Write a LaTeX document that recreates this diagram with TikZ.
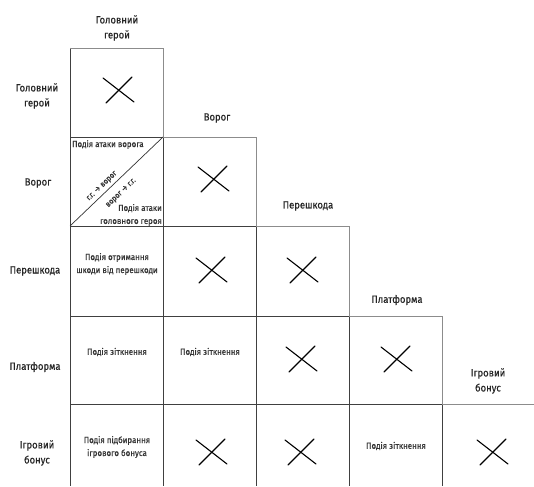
\documentclass[tikz,border=0pt]{standalone}
\usepackage{fontspec}
\setmainfont{Fira Sans}[FakeStretch=0.9,FakeBold=0.5]
\begin{document}
\begin{tikzpicture}[x=1pt,y=-1pt,
  outer/.style={draw=black!45,line width=0.7pt},
  inner/.style={draw=black!75,line width=0.8pt},
  hdr/.style={text=black!85,font=\fontsize{10.5}{15}\selectfont,align=center,inner sep=0pt},
  cell/.style={text=black!80,font=\fontsize{8.8}{13}\selectfont,align=center,inner sep=0pt},
  diag/.style={text=black!80,font=\fontsize{8}{9}\selectfont,inner sep=0pt,rotate=43.7},
  cross/.style={draw=black,line width=1.1pt,line cap=round}]
\useasboundingbox (0,0) rectangle (534,486);

% interior grid lines
\draw[inner] (70,137) -- (163,137);
\draw[inner] (70,226) -- (256,226);
\draw[inner] (70,316) -- (349,316);
\draw[inner] (70,404) -- (442,404);
\draw[inner] (163,137) -- (163,486);
\draw[inner] (256,226) -- (256,486);
\draw[inner] (349,316) -- (349,486);
\draw[inner] (442,404) -- (442,486);
\draw[inner] (70,48) -- (70,486);

% staircase outline (top and right edges of the diagonal cells)
\draw[outer] (70,48) -- (163,48) -- (163,137) -- (256,137) -- (256,226)
  -- (349,226) -- (349,316) -- (442,316) -- (442,404) -- (534,404);

% diagonal split of the hero/enemy cell
\draw[line width=0.7pt,black!80] (70,226) -- (163,137);

% column headers
\node[hdr] (c1) at (117,28) {Головний\\герой};
\node[hdr] (c2) at (217,118) {Ворог};
\node[hdr] (c3) at (308,206) {Перешкода};
\node[hdr] (c4) at (397,300) {Платформа};
\node[hdr] (c5) at (488,381) {Ігровий\\бонус};

% row headers
\node[hdr] (r1) at (37,96) {Головний\\герой};
\node[hdr] (r2) at (38,183) {Ворог};
\node[hdr] (r3) at (35,271) {Перешкода};
\node[hdr] (r4) at (35,367) {Платформа};
\node[hdr] (r5) at (37,453) {Ігровий\\бонус};

% cell texts
\node[cell,anchor=north west] (e1) at (72,140) {Подія атаки ворога};
\node[cell,anchor=south east,align=right] (e2) at (162,226) {Подія атаки\\головного героя};
\node[diag] (e3) at (102,186) {г.г. → ворог};
\node[diag] (e4) at (121,193) {ворог → г.г.};
\node[cell] (o1) at (117,264) {Подія отримання\\шкоди від перешкоди};
\node[cell] (p1) at (117,352) {Подія зіткнення};
\node[cell] (p2) at (210,352) {Подія зіткнення};
\node[cell] (b1) at (117,447) {Подія підбирання\\ігрового бонуса};
\node[cell] (b4) at (396,446) {Подія зіткнення};

% crossed-out cells
\foreach \cx/\cy in {119/90, 214/179, 212/270, 303/270, 302/359, 397/359, 212/452, 301/452, 493/452}{
  \draw[cross] (\cx-16,\cy-12) -- (\cx+15,\cy+12);
  \draw[cross] (\cx-13,\cy+13) -- (\cx+13,\cy-13);
}
\end{tikzpicture}
\end{document}
